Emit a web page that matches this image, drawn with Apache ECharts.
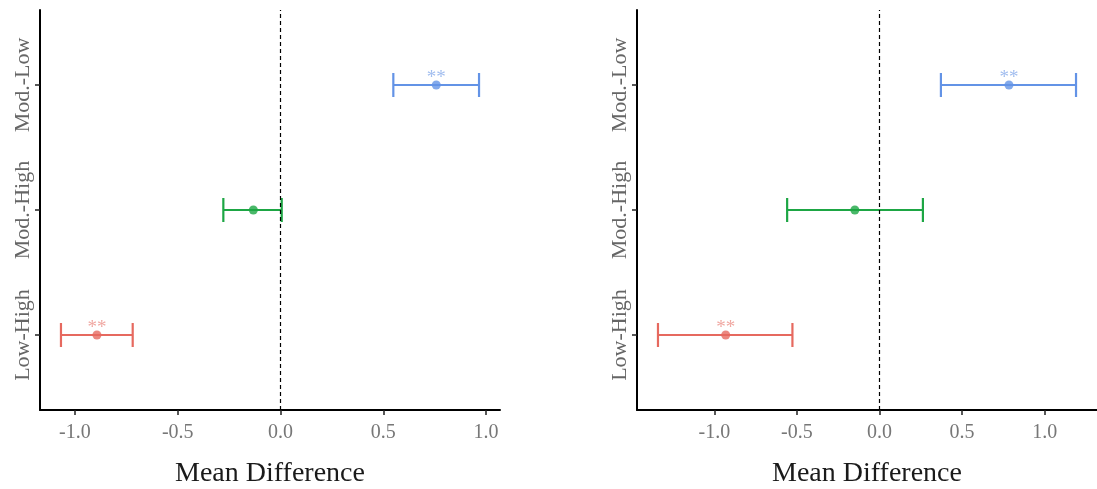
<!DOCTYPE html>
<html>
<head>
<meta charset="utf-8">
<script src="https://cdn.jsdelivr.net/npm/echarts@6/dist/echarts.min.js"></script>
<style>
html,body{margin:0;padding:0;background:#fff;}
#chart{width:1097px;height:489px;}
</style>
</head>
<body>
<div id="chart"></div>
<script>
// ---- data ----
const categories = ['Low-High', 'Mod.-High', 'Mod.-Low'];
const colors = ['#E6695F', '#1DA644', '#6393E6'];
const starColors = ['#EC918A', '#1DA644', '#8AADEB'];
const xTicks = [-1.0, -0.5, 0.0, 0.5, 1.0];

const leftEst   = [-0.893, -0.132, 0.758];
const leftLower = [-1.068, -0.278, 0.549];
const leftUpper = [-0.719,  0.006, 0.966];
const leftSig   = ['**', '', '**'];

const rightEst   = [-0.931, -0.149, 0.784];
const rightLower = [-1.341, -0.559, 0.372];
const rightUpper = [-0.527,  0.263, 1.190];
const rightSig   = ['**', '', '**'];

const leftRange  = [-1.17, 1.068];
const rightRange = [-1.468, 1.317];

// ---- chart ----
const FONT = 'Liberation Serif';
const chart = echarts.init(document.getElementById('chart'), null, {renderer: 'canvas'});

function xAxisFor(gi, range) {
  return {
    type: 'value', gridIndex: gi, min: range[0], max: range[1],
    name: 'Mean Difference', nameLocation: 'middle', nameGap: 50,
    nameTextStyle: {fontFamily: FONT, fontSize: 28, color: '#1a1a1a'},
    axisLine: {show: true, onZero: false, lineStyle: {color: '#000', width: 2}},
    axisTick: {show: true, length: 5, lineStyle: {color: '#222', width: 1.5}, customValues: xTicks},
    axisLabel: {fontFamily: FONT, fontSize: 20, color: '#777', margin: 13,
      customValues: xTicks, formatter: v => v.toFixed(1)},
    splitLine: {show: false}
  };
}
function yAxisFor(gi) {
  return {
    type: 'value', gridIndex: gi, min: 0.4, max: 3.6,
    axisLine: {show: true, onZero: false, lineStyle: {color: '#000', width: 2}},
    axisTick: {show: true, length: 5, lineStyle: {color: '#222', width: 1.5}, customValues: [1, 2, 3]},
    axisLabel: {fontFamily: FONT, fontSize: 22, color: '#666', rotate: 90, margin: 6,
      customValues: [1, 2, 3], formatter: v => categories[Math.round(v) - 1]},
    splitLine: {show: false}
  };
}

function panelSeries(gi, est, lower, upper, sig) {
  const barData = lower.map((lo, i) => ({value: [lo, upper[i], i + 1], itemStyle: {color: colors[i]}}));
  const ptData = est.map((e, i) => ({
    value: [e, i + 1], itemStyle: {color: colors[i]},
    label: {show: !!sig[i], formatter: sig[i], color: starColors[i]}
  }));
  return [
    {
      type: 'custom', xAxisIndex: gi, yAxisIndex: gi, data: barData,
      encode: {x: [0, 1], y: 2},
      renderItem: function (params, api) {
        const a = api.coord([api.value(0), api.value(2)]);
        const b = api.coord([api.value(1), api.value(2)]);
        const h = 12;
        const col = colors[params.dataIndex];
        const st = {stroke: col, lineWidth: 2.2};
        return {type: 'group', children: [
          {type: 'line', shape: {x1: a[0], y1: a[1], x2: b[0], y2: b[1]}, style: st},
          {type: 'line', shape: {x1: a[0], y1: a[1] - h, x2: a[0], y2: a[1] + h}, style: st},
          {type: 'line', shape: {x1: b[0], y1: b[1] - h, x2: b[0], y2: b[1] + h}, style: st}
        ]};
      },
      markLine: {
        silent: true, symbol: 'none', animation: false,
        lineStyle: {color: '#000', type: [4, 3], width: 1.2},
        label: {show: false},
        data: [{xAxis: 0}]
      },
      z: 2
    },
    {
      type: 'scatter', xAxisIndex: gi, yAxisIndex: gi, data: ptData,
      symbol: 'circle', symbolSize: 9,
      label: {position: 'top', distance: -7, fontFamily: FONT, fontSize: 19},
      z: 3
    }
  ];
}

const option = {
  animation: false,
  backgroundColor: '#fff',
  grid: [
    {left: 40, top: 10, width: 460, height: 400, containLabel: false, outerBoundsMode: 'none'},
    {left: 637, top: 10, width: 460, height: 400, containLabel: false, outerBoundsMode: 'none'}
  ],
  xAxis: [xAxisFor(0, leftRange), xAxisFor(1, rightRange)],
  yAxis: [yAxisFor(0), yAxisFor(1)],
  series: [
    ...panelSeries(0, leftEst, leftLower, leftUpper, leftSig),
    ...panelSeries(1, rightEst, rightLower, rightUpper, rightSig)
  ]
};
chart.setOption(option);
</script>
</body>
</html>
